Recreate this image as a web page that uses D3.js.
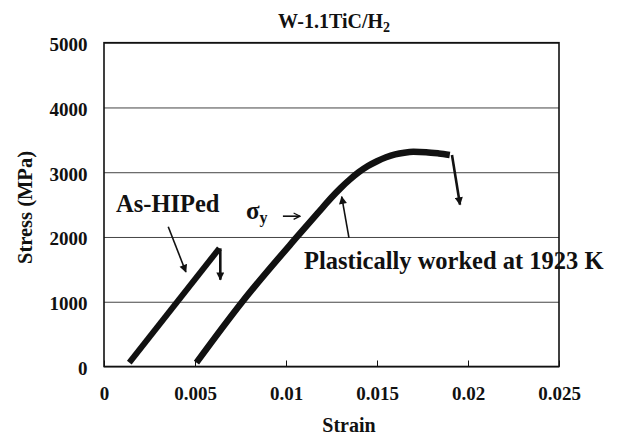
<!DOCTYPE html>
<html>
<head>
<meta charset="utf-8">
<script src="https://cdn.jsdelivr.net/npm/d3@7"></script>
<style>
  body { margin: 0; background: #fff; }
  svg text { font-family: "Times New Roman", "Liberation Serif", serif; font-weight: bold; fill: #111; }
</style>
</head>
<body>
<div id="chart"></div>
<script>
// values
var xTicks = [0, 0.005, 0.01, 0.015, 0.02, 0.025];
var xTickLabels = ["0", "0.005", "0.01", "0.015", "0.02", "0.025"];
var yTicks = [0, 1000, 2000, 3000, 4000, 5000];
var yTickLabels = ["0", "1000", "2000", "3000", "4000", "5000"];

// As-HIPed specimen
var strainHip = [0.00139, 0.00634];
var stressHip = [60, 1825];
var hipBreak = [[0.00639, 1825], [0.00639, 1340]];

// plastically worked at 1923 K
var strainPw = [0.00508, 0.0076, 0.0106, 0.0120, 0.0125, 0.0130, 0.0135, 0.0140, 0.0145, 0.0150, 0.0155, 0.0160, 0.0165, 0.0170, 0.0177, 0.0184, 0.0190];
var stressPw = [60, 1000, 2000, 2450, 2610, 2755, 2885, 3000, 3095, 3170, 3230, 3275, 3302, 3315, 3310, 3290, 3266];
var pwBreak = [[0.01912, 3266], [0.01956, 2500]];

// annotation arrows [from, to]
var arrowHip = [[0.00353, 2159], [0.00450, 1459]];
var arrowSigma = [[0.00983, 2321], [0.01077, 2321]];
var arrowPw = [[0.01346, 1985], [0.01306, 2622]];

var width = 622, height = 436;
var plotLeft = 104, plotRight = 559, plotTop = 42.7, plotBottom = 366.5;

var x = d3.scaleLinear().domain([0, 0.025]).range([plotLeft, plotRight]);
var y = d3.scaleLinear().domain([0, 5000]).range([plotBottom, plotTop]);

var svg = d3.select('#chart').append('svg')
    .attr('width', width)
    .attr('height', height);

var defs = svg.append('defs');
defs.append('marker')
    .attr('id', 'head')
    .attr('markerUnits', 'userSpaceOnUse')
    .attr('viewBox', '0 0 10 10')
    .attr('refX', 9).attr('refY', 5)
    .attr('markerWidth', 9).attr('markerHeight', 8)
    .attr('orient', 'auto')
    .append('path').attr('d', 'M0,0 L10,5 L0,10 z').attr('fill', '#111');
defs.append('marker')
    .attr('id', 'open')
    .attr('markerUnits', 'userSpaceOnUse')
    .attr('viewBox', '0 0 10 10')
    .attr('refX', 9).attr('refY', 5)
    .attr('markerWidth', 8).attr('markerHeight', 9)
    .attr('orient', 'auto')
    .append('path').attr('d', 'M1,1 L9,5 L1,9').attr('fill', 'none')
    .attr('stroke', '#111').attr('stroke-width', 1.6);

// grid + y labels
var yAxis = svg.append('g')
    .attr('transform', 'translate(' + plotLeft + ',0)')
    .call(d3.axisLeft(y).tickValues(yTicks)
        .tickSize(-(plotRight - plotLeft)).tickPadding(16.5)
        .tickFormat(function (d, i) { return yTickLabels[i]; }));
yAxis.select('.domain').remove();
yAxis.selectAll('.tick line').attr('stroke', '#444').attr('stroke-width', 1);
yAxis.selectAll('.tick text')
    .attr('dy', '0.42em')
    .style('font-size', '19px')
    .style('font-family', '"Times New Roman", "Liberation Serif", serif')
    .style('font-weight', 'bold');

// x axis, inner ticks
var xAxis = svg.append('g')
    .attr('transform', 'translate(0,' + plotBottom + ')')
    .call(d3.axisBottom(x).tickValues(xTicks)
        .tickSize(-6).tickPadding(20.5)
        .tickFormat(function (d, i) { return xTickLabels[i]; }));
xAxis.select('.domain').remove();
xAxis.selectAll('.tick line').attr('stroke', '#111').attr('stroke-width', 1);
xAxis.selectAll('.tick text')
    .style('font-size', '19px')
    .style('font-family', '"Times New Roman", "Liberation Serif", serif')
    .style('font-weight', 'bold');

// plot frame
svg.append('rect')
    .attr('x', plotLeft).attr('y', plotTop)
    .attr('width', plotRight - plotLeft).attr('height', plotBottom - plotTop)
    .attr('fill', 'none').attr('stroke', '#111').attr('stroke-width', 1.6);

var line = d3.line()
    .x(function (d) { return x(d[0]); })
    .y(function (d) { return y(d[1]); })
    .curve(d3.curveMonotoneX);

var straight = d3.line()
    .x(function (d) { return x(d[0]); })
    .y(function (d) { return y(d[1]); });

var hipData = strainHip.map(function (s, i) { return [s, stressHip[i]]; });
var pwData = strainPw.map(function (s, i) { return [s, stressPw[i]]; });

svg.append('path').datum(hipData)
    .attr('d', straight)
    .attr('fill', 'none').attr('stroke', '#111')
    .attr('stroke-width', 6);

svg.append('path').datum(pwData)
    .attr('d', line)
    .attr('fill', 'none').attr('stroke', '#111')
    .attr('stroke-width', 6.5);

[hipBreak, pwBreak].forEach(function (a) {
  svg.append('path').datum(a)
      .attr('d', straight)
      .attr('fill', 'none').attr('stroke', '#111')
      .attr('stroke-width', 2.6)
      .attr('marker-end', 'url(#head)');
});

[arrowHip, arrowPw].forEach(function (a) {
  svg.append('path').datum(a)
      .attr('d', straight)
      .attr('fill', 'none').attr('stroke', '#111')
      .attr('stroke-width', 1.6)
      .attr('marker-end', 'url(#head)');
});

svg.append('path').datum(arrowSigma)
    .attr('d', straight)
    .attr('fill', 'none').attr('stroke', '#111')
    .attr('stroke-width', 1.6)
    .attr('marker-end', 'url(#open)');

// labels
svg.append('text')
    .attr('x', x(0.00066)).attr('y', y(2391))
    .style('font-size', '24.5px')
    .text('As-HIPed');

svg.append('text')
    .attr('x', x(0.01099)).attr('y', y(1501))
    .style('font-size', '24.5px')
    .text('Plastically worked at 1923 K');

var sig = svg.append('text')
    .attr('x', x(0.0078)).attr('y', y(2273))
    .style('font-size', '25px');
sig.append('tspan').text('σ');
sig.append('tspan').attr('dy', 4).style('font-size', '16px').text('y');

var title = svg.append('text')
    .attr('x', 334).attr('y', 28)
    .attr('text-anchor', 'middle')
    .style('font-size', '20px');
title.append('tspan').text('W-1.1TiC/H');
title.append('tspan').attr('dy', 4).style('font-size', '14px').text('2');

svg.append('text')
    .attr('x', 349).attr('y', 431.5)
    .attr('text-anchor', 'middle')
    .style('font-size', '20px')
    .text('Strain');

svg.append('text')
    .attr('transform', 'translate(31.5,207.5) rotate(-90)')
    .attr('text-anchor', 'middle')
    .style('font-size', '20.5px')
    .text('Stress (MPa)');
</script>
</body>
</html>
